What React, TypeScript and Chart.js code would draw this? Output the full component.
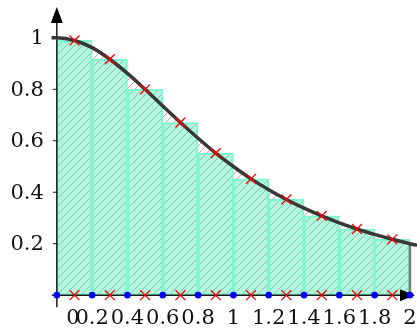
import React, { useEffect, useRef } from "react";
import { Chart, registerables } from "chart.js";

Chart.register(...registerables);

// ---- data ----
const partition = [0, 0.2, 0.4, 0.6, 0.8, 1, 1.2, 1.4, 1.6, 1.8, 2];
const midpoints = [0.1, 0.3, 0.5, 0.7, 0.9, 1.1, 1.3, 1.5, 1.7, 1.9];
const barHeights = [0.99, 0.917, 0.8, 0.671, 0.552, 0.452, 0.372, 0.308, 0.257, 0.217];
const curveX = [-0.03, 0, 0.1, 0.2, 0.3, 0.4, 0.5, 0.6, 0.7, 0.8, 0.9, 1, 1.1, 1.2, 1.3, 1.4, 1.5, 1.6, 1.7, 1.8, 1.9, 2, 2.04];
const curveY = [1, 1, 0.99, 0.962, 0.917, 0.862, 0.8, 0.735, 0.671, 0.61, 0.552, 0.5, 0.452, 0.41, 0.372, 0.338, 0.308, 0.281, 0.257, 0.236, 0.217, 0.2, 0.194];
const areaX = [0, 0.1, 0.2, 0.3, 0.4, 0.5, 0.6, 0.7, 0.8, 0.9, 1, 1.1, 1.2, 1.3, 1.4, 1.5, 1.6, 1.7, 1.8, 1.9, 2];
const areaY = [1, 0.99, 0.962, 0.917, 0.862, 0.8, 0.735, 0.671, 0.61, 0.552, 0.5, 0.452, 0.41, 0.372, 0.338, 0.308, 0.281, 0.257, 0.236, 0.217, 0.2];
const xTickValues = [0, 0.2, 0.4, 0.6, 0.8, 1, 1.2, 1.4, 1.6, 1.8, 2];
const xTickLabels = ["0", "0.2", "0.4", "0.6", "0.8", "1", "1.2", "1.4", "1.6", "1.8", "2"];
const yTickValues = [0.2, 0.4, 0.6, 0.8, 1];
const yTickLabels = ["0.2", "0.4", "0.6", "0.8", "1"];

function makePattern(bg: string, stripe: string, s: number): CanvasPattern | string {
  const c = document.createElement("canvas");
  c.width = s;
  c.height = s;
  const g = c.getContext("2d");
  if (!g) return bg;
  g.fillStyle = bg;
  g.fillRect(0, 0, s, s);
  g.strokeStyle = stripe;
  g.lineWidth = 1;
  g.beginPath();
  g.moveTo(-1, s + 1);
  g.lineTo(s + 1, -1);
  g.moveTo(-1, 1);
  g.lineTo(1, -1);
  g.moveTo(s - 1, s + 1);
  g.lineTo(s + 1, s - 1);
  g.stroke();
  const p = g.createPattern(c, "repeat");
  return p || bg;
}

const FONT = '21px "DejaVu Serif"';
const BAR_INDEX = 5;

function drawAxes(chart: any) {
  const { ctx } = chart;
  const xs = chart.scales.x;
  const ys = chart.scales.y;
  const x0 = xs.getPixelForValue(0);
  const y0 = ys.getPixelForValue(0);
  ctx.save();
  ctx.strokeStyle = "#1a1a1a";
  ctx.fillStyle = "#000";
  ctx.lineWidth = 1.5;
  ctx.beginPath();
  ctx.moveTo(x0 - 5, y0);
  ctx.lineTo(404, y0);
  ctx.stroke();
  ctx.beginPath();
  ctx.moveTo(415, y0);
  ctx.lineTo(400, y0 - 6);
  ctx.lineTo(400, y0 + 6);
  ctx.closePath();
  ctx.fill();
  ctx.beginPath();
  ctx.moveTo(x0, y0 + 12);
  ctx.lineTo(x0, 20);
  ctx.stroke();
  ctx.beginPath();
  ctx.moveTo(x0, 7);
  ctx.lineTo(x0 - 6, 23);
  ctx.lineTo(x0 + 6, 23);
  ctx.closePath();
  ctx.fill();
  ctx.lineWidth = 1;
  yTickValues.forEach((v) => {
    const py = ys.getPixelForValue(v);
    ctx.beginPath();
    ctx.moveTo(x0 - 4, py);
    ctx.lineTo(x0 + 1, py);
    ctx.stroke();
  });
  ctx.restore();
}

const axesPlugin = {
  id: "axesPlugin",
  afterDatasetDraw(chart: any, args: any) {
    if (args.index === BAR_INDEX) drawAxes(chart);
  },
  afterDraw(chart: any) {
    const { ctx } = chart;
    const xs = chart.scales.x;
    const ys = chart.scales.y;
    const x0 = xs.getPixelForValue(0);
    const y0 = ys.getPixelForValue(0);
    ctx.save();
    ctx.fillStyle = "#111";
    ctx.font = FONT;
    ctx.textAlign = "right";
    ctx.textBaseline = "middle";
    yTickValues.forEach((v, i) => {
      ctx.fillText(yTickLabels[i], x0 - 13, ys.getPixelForValue(v) + 1);
    });
    ctx.textAlign = "center";
    xTickValues.forEach((v, i) => {
      let px = xs.getPixelForValue(v);
      if (v === 0) px += 16;
      ctx.fillText(xTickLabels[i], px, y0 + 23);
    });
    ctx.restore();
  },
};

export default function App() {
  const ref = useRef<HTMLCanvasElement | null>(null);
  useEffect(() => {
    if (!ref.current) return;
    const barFill = makePattern("#b0f7dd", "rgba(130,140,135,0.55)", 8);
    const redFill = makePattern("rgba(255,255,255,0)", "rgba(255,70,70,0.55)", 8);
    const chart = new Chart(ref.current, {
      type: "scatter",
      data: {
        datasets: [
          {
            type: "scatter",
            data: partition.map((x) => ({ x, y: 0 })),
            pointRadius: 3.3,
            pointBackgroundColor: "#0000ff",
            pointBorderColor: "#0000ff",
            pointBorderWidth: 0,
            order: 0,
          } as any,
          {
            type: "scatter",
            data: midpoints.map((x, i) => ({ x, y: barHeights[i] })),
            pointStyle: "crossRot",
            pointRadius: 7,
            pointBorderColor: "#ff0000",
            pointBorderWidth: 1.3,
            order: 1,
          } as any,
          {
            type: "scatter",
            data: midpoints.map((x) => ({ x, y: 0 })),
            pointStyle: "crossRot",
            pointRadius: 7,
            pointBorderColor: "#ff0000",
            pointBorderWidth: 1.3,
            order: 1,
          } as any,
          {
            type: "line",
            data: curveX.map((x, i) => ({ x, y: curveY[i] })),
            borderColor: "#383838",
            borderWidth: 3.5,
            pointRadius: 0,
            cubicInterpolationMode: "monotone",
            fill: false,
            order: 2,
          } as any,
          {
            type: "line",
            data: [{ x: 2, y: 0 }, { x: 2, y: areaY[areaY.length - 1] }],
            borderColor: "#7a7a7a",
            borderWidth: 2.5,
            pointRadius: 0,
            fill: false,
            order: 2.5,
          } as any,
          {
            type: "bar",
            data: midpoints.map((x, i) => ({ x, y: barHeights[i] })),
            backgroundColor: barFill,
            borderColor: "#7cf8cc",
            borderWidth: 2,
            borderSkipped: false,
            barPercentage: 1,
            categoryPercentage: 1,
            order: 3,
          } as any,
          {
            type: "line",
            data: areaX.map((x, i) => ({ x, y: areaY[i] })),
            borderWidth: 0,
            borderColor: "rgba(0,0,0,0)",
            backgroundColor: redFill,
            pointRadius: 0,
            cubicInterpolationMode: "monotone",
            fill: "origin",
            order: 4,
          } as any,
        ],
      },
      options: {
        animation: false,
        responsive: false,
        events: [],
        layout: { padding: { left: 48, right: 0, top: 7, bottom: 20 }, autoPadding: false },
        plugins: { legend: { display: false }, tooltip: { enabled: false } },
        scales: {
          x: {
            type: "linear",
            min: -0.05,
            max: 2.04,
            offset: false,
            display: false,
            afterBuildTicks: (scale: any) => {
              scale.ticks = xTickValues.map((v) => ({ value: v }));
            },
          },
          y: { type: "linear", min: -0.05, max: 1.12, display: false },
        },
      } as any,
      plugins: [axesPlugin],
    });
    return () => chart.destroy();
  }, []);
  return (
    <div style={{ position: "absolute", left: 0, top: 0, width: 417, height: 328, background: "#fff" }}>
      <canvas ref={ref} width={417} height={328} style={{ display: "block" }} />
    </div>
  );
}
